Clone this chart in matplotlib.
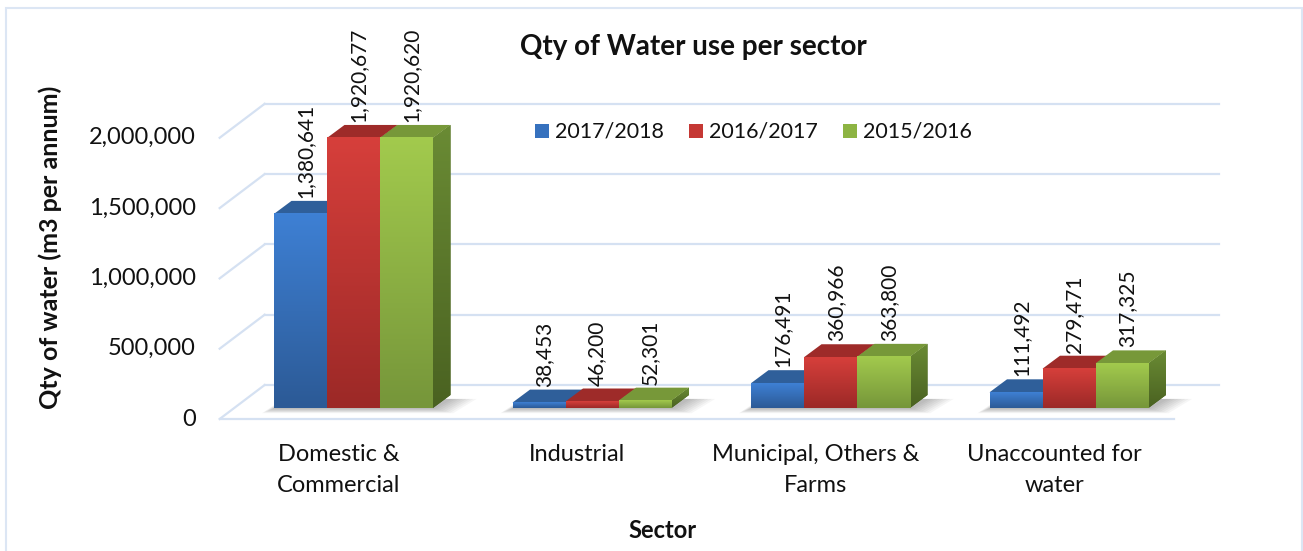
import numpy as np
import matplotlib
matplotlib.use("Agg")
import matplotlib.pyplot as plt
from matplotlib.patches import Polygon, Rectangle

plt.rcParams['font.family'] = ['Lato', 'DejaVu Sans']

# ---------------- data ----------------
categories = ["Domestic &\nCommercial", "Industrial", "Municipal, Others &\nFarms", "Unaccounted for\nwater"]
series_names = ["2017/2018", "2016/2017", "2015/2016"]
vals_2017_2018 = [1380641, 38453, 176491, 111492]
vals_2016_2017 = [1920677, 46200, 360966, 279471]
vals_2015_2016 = [1920620, 52301, 363800, 317325]
y_ticks = [0, 500000, 1000000, 1500000, 2000000]
title = "Qty of Water use per sector"
y_label = "Qty of water (m3 per annum)"
x_label = "Sector"

series = [vals_2017_2018, vals_2016_2017, vals_2015_2016]

# ---------------- style ----------------
W, H = 1303, 551
face_top = ["#3E80D4", "#D63F3B", "#A2CA4D"]
face_bot = ["#2C5A96", "#9C2927", "#76963A"]
top_col = ["#2F5F9A", "#9E2B29", "#779839"]
side_top = "#6A8B34"
side_bot = "#4A6221"
legend_col = ["#3671BE", "#C53834", "#8DB443"]
grid_col = "#D5E1F2"
text_col = "#111111"

# geometry (pixels)
X0_PX, STEP_PX = 353.5, 238.5          # first category centre / spacing on bar plane
FLOOR_PX, PX_PER_VAL = 408.0, 140.6e-6  # bar floor row / pixels per unit value
BAR_W = 53.0 / STEP_PX
FRONT_OFF = (-14.6, -11.0)   # front plane offset from bar plane (px, y up)
BACK_OFF = (30.4, 23.0)      # back wall offset
DEPTH = (17.5, 13.0)         # bar depth

fig = plt.figure(figsize=(W / 100, H / 100), dpi=100)
fig.patch.set_facecolor("white")
ax = fig.add_axes([0, 0, 1, 1])
xlim = ((0 - X0_PX) / STEP_PX, (W - X0_PX) / STEP_PX)
ylim = ((FLOOR_PX - H) / PX_PER_VAL, FLOOR_PX / PX_PER_VAL)
ax.set_xlim(*xlim)
ax.set_ylim(*ylim)
ax.axis("off")

def ux(px):
    return px / STEP_PX

def uy(px):
    return px / PX_PER_VAL

xL, xR = -0.5, len(categories) - 0.5
fx, fy = ux(FRONT_OFF[0]), uy(FRONT_OFF[1])
bx, by = ux(BACK_OFF[0]), uy(BACK_OFF[1])
ddx, ddy = ux(DEPTH[0]), uy(DEPTH[1])

# ---------------- walls / gridlines ----------------
for t in y_ticks:
    ax.plot([xL + fx, xL + bx], [t + fy, t + by], color=grid_col, lw=1.6, zorder=1)
    ax.plot([xL + bx, xR + bx], [t + by, t + by], color=grid_col, lw=1.6, zorder=1)
ax.plot([xL + fx, xR + fx], [fy, fy], color=grid_col, lw=1.6, zorder=1)

# tick labels on front plane
for t in y_ticks:
    ax.text(xL + fx - ux(24), t + fy, f"{t:,}", ha="right", va="center",
            fontsize=17, color=text_col, zorder=5)

# ---------------- bars ----------------
grad = np.linspace(0, 1, 64).reshape(-1, 1)
n_s = len(series)
for i in range(len(categories)):
    left_group = i - n_s * BAR_W / 2
    # soft shadow
    for k in range(8):
        e = ux(2 + 2.6 * k)
        sh = Polygon([(left_group - e * 0.6, -uy(1 + 0.6 * k)),
                      (left_group + n_s * BAR_W + e, -uy(1 + 0.6 * k)),
                      (left_group + n_s * BAR_W + ddx + e * 1.3, ddy * 0.7),
                      (left_group + ddx - e * 0.4, ddy * 0.7)],
                     closed=True, facecolor="#000000", alpha=0.035, lw=0, zorder=2)
        ax.add_patch(sh)
    for j in range(n_s):
        v = series[j][i]
        x0 = left_group + j * BAR_W
        x1 = x0 + BAR_W
        z = 3 + i * 0.01 + j * 0.001
        # right side face
        side = Polygon([(x1, 0), (x1 + ddx, ddy), (x1 + ddx, v + ddy), (x1, v)], closed=True,
                       facecolor=side_bot, edgecolor="none", zorder=z)
        ax.add_patch(side)
        cmap_side = matplotlib.colors.LinearSegmentedColormap.from_list("s", [side_bot, side_top])
        im = ax.imshow(grad, cmap=cmap_side, extent=(x1, x1 + ddx, 0, v + ddy), origin="lower",
                       aspect="auto", zorder=z, interpolation="bilinear")
        im.set_clip_path(side)
        # top face
        top = Polygon([(x0, v), (x1, v), (x1 + ddx, v + ddy), (x0 + ddx, v + ddy)], closed=True,
                      facecolor=top_col[j], edgecolor="none", zorder=z + 0.0002)
        ax.add_patch(top)
        # front face with vertical gradient
        cmap = matplotlib.colors.LinearSegmentedColormap.from_list("f", [face_bot[j], face_top[j]])
        ax.imshow(grad, cmap=cmap, extent=(x0, x1, 0, v), origin="lower", aspect="auto",
                  zorder=z + 0.0003, interpolation="bilinear")
        # value label
        ax.text(x0 + BAR_W / 2 + ddx * 0.3, v + ddy + uy(3), f"{v:,}", rotation=90,
                ha="center", va="bottom", fontsize=15, color=text_col, zorder=6)

# category labels on front plane
for i, c in enumerate(categories):
    ax.text(i + fx, fy - uy(25), c, ha="center", va="top", fontsize=17,
            linespacing=1.6, color=text_col, zorder=5)

ax.set_xlim(*xlim)
ax.set_ylim(*ylim)

# ---------------- texts ----------------
def fxp(px):
    return px / W

def fyp(py):
    return 1 - py / H

fig.text(fxp(693), fyp(47), title, ha="center", va="center", fontsize=20, fontweight="bold",
         color=text_col)
fig.text(fxp(50), fyp(247), y_label, ha="center", va="center", rotation=90, fontsize=18,
         fontweight="bold", color=text_col)
fig.text(fxp(663), fyp(531), x_label, ha="center", va="center", fontsize=17, fontweight="bold",
         color=text_col)

# legend
leg_x = [535, 689, 843]
for k, name in enumerate(series_names):
    fig.patches.append(Rectangle((fxp(leg_x[k]), fyp(138)), 14 / W, 14 / H,
                                 transform=fig.transFigure, facecolor=legend_col[k],
                                 edgecolor="none"))
    fig.text(fxp(leg_x[k] + 20), fyp(131), name, ha="left", va="center", fontsize=15.5,
             color=text_col)

# chart border
fig.patches.append(Rectangle((fxp(6), fyp(560)), (1302 - 6) / W, (560 - 8) / H,
                             transform=fig.transFigure, facecolor="none",
                             edgecolor="#DCE6F4", lw=1.5))

fig.savefig("out.png", dpi=100, facecolor="white")
